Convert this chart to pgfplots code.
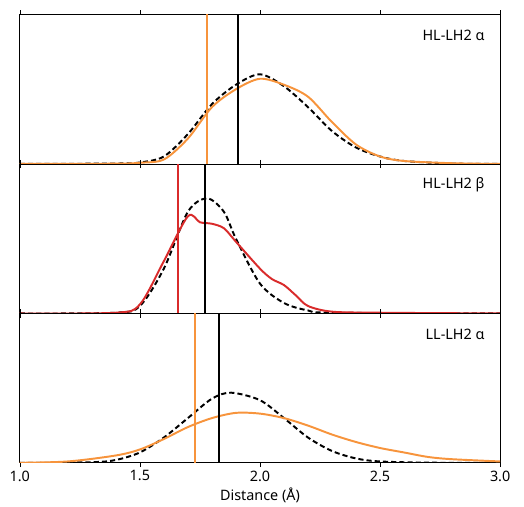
\documentclass[border={6pt 0pt 10pt 10pt}]{standalone}
\usepackage{fontspec}
\setmainfont{Noto Sans}
\usepackage{pgfplots}
\pgfplotsset{compat=1.18}
\usepgfplotslibrary{groupplots}
\definecolor{oran}{HTML}{F7943C}
\definecolor{redd}{HTML}{D92B2B}
\begin{document}
\begin{tikzpicture}
\begin{groupplot}[group style={group size=1 by 3, vertical sep=0pt, x descriptions at=edge bottom},
 width=466bp, height=145bp, scale only axis, xmin=1, xmax=3, ymin=0, ymax=1,
 ytick=\empty, xtick={1,1.5,2,2.5,3}, xticklabel style={/pgf/number format/fixed,/pgf/number format/precision=1,/pgf/number format/fixed zerofill},
 /pgf/number format/assume math mode=true, tick align=outside, tick style={black}, major tick length=4pt,
 axis line style={line width=0.9pt},
 ticklabel style={font=\fontsize{14}{16}\selectfont}, every axis plot/.append style={line width=1.9pt}]
\nextgroupplot
\addplot[black,dash pattern=on 5pt off 3pt,smooth] coordinates {(1.0,0)(1.4,0.003)(1.5,0.01)(1.6,0.05)(1.7,0.2)(1.8,0.4)(1.9,0.53)(2.0,0.6)(2.1,0.52)(2.2,0.38)(2.3,0.22)(2.4,0.11)(2.5,0.05)(2.6,0.02)(2.8,0.003)(3.0,0)};
\addplot[oran,smooth] coordinates {(1.0,0)(1.4,0.002)(1.5,0.008)(1.6,0.03)(1.7,0.17)(1.8,0.38)(1.9,0.5)(2.0,0.57)(2.1,0.53)(2.2,0.45)(2.3,0.28)(2.4,0.13)(2.5,0.05)(2.6,0.02)(2.8,0.005)(3.0,0)};
\addplot[oran] coordinates {(1.78,0)(1.78,1)};
\addplot[black] coordinates {(1.91,0)(1.91,1)};
\node[anchor=east,font=\fontsize{14}{16}\selectfont] at (axis cs:2.95,0.86) {HL-LH2 α};
\nextgroupplot
\addplot[black,dash pattern=on 5pt off 3pt,smooth] coordinates {(1.0,0)(1.4,0.005)(1.5,0.05)(1.6,0.3)(1.7,0.68)(1.78,0.77)(1.85,0.68)(1.9,0.5)(2.0,0.2)(2.1,0.07)(2.2,0.02)(2.3,0.005)(3.0,0)};
\addplot[redd,smooth] coordinates {(1.0,0)(1.4,0.005)(1.5,0.06)(1.6,0.35)(1.7,0.65)(1.75,0.61)(1.8,0.6)(1.85,0.57)(1.9,0.48)(2.0,0.3)(2.05,0.23)(2.1,0.19)(2.15,0.12)(2.2,0.05)(2.3,0.012)(2.5,0.005)(3.0,0)};
\addplot[redd] coordinates {(1.66,0)(1.66,1)};
\addplot[black] coordinates {(1.77,0)(1.77,1)};
\node[anchor=east,font=\fontsize{14}{16}\selectfont] at (axis cs:2.95,0.86) {HL-LH2 β};
\nextgroupplot[xlabel={Distance (Å)}, xlabel style={font=\fontsize{14}{16}\selectfont}]
\addplot[black,dash pattern=on 5pt off 3pt,smooth] coordinates {(1.0,0)(1.3,0.005)(1.4,0.02)(1.5,0.07)(1.6,0.17)(1.7,0.3)(1.8,0.43)(1.88,0.47)(2.0,0.42)(2.1,0.3)(2.2,0.17)(2.3,0.08)(2.4,0.03)(2.5,0.01)(2.7,0.002)(3.0,0)};
\addplot[oran,smooth] coordinates {(1.0,0.001)(1.2,0.01)(1.4,0.05)(1.5,0.09)(1.6,0.16)(1.7,0.24)(1.8,0.3)(1.9,0.335)(2.0,0.33)(2.1,0.3)(2.2,0.25)(2.3,0.19)(2.4,0.14)(2.5,0.1)(2.6,0.07)(2.7,0.04)(2.8,0.025)(3.0,0.01)};
\addplot[oran] coordinates {(1.73,0)(1.73,1)};
\addplot[black] coordinates {(1.83,0)(1.83,1)};
\node[anchor=east,font=\fontsize{14}{16}\selectfont] at (axis cs:2.95,0.86) {LL-LH2 α};
\end{groupplot}
\end{tikzpicture}
\end{document}
